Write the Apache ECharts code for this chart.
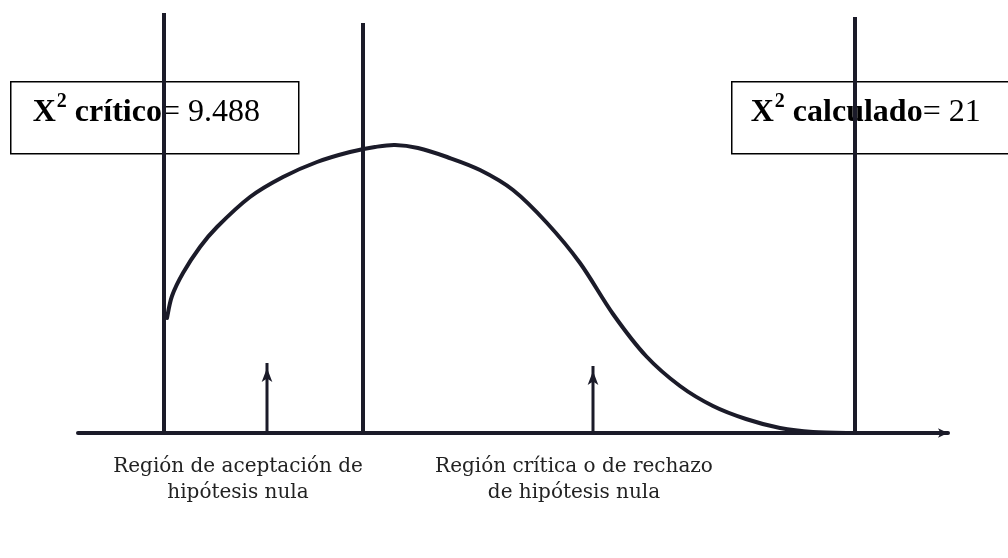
<!DOCTYPE html>
<html>
<head>
<meta charset="utf-8">
<script src="https://cdn.jsdelivr.net/npm/echarts@6/dist/echarts.min.js"></script>
<style>
  html, body { margin: 0; padding: 0; background: #fff; }
  #chart { width: 1008px; height: 558px; }
</style>
</head>
<body>
<div id="chart"></div>
<script>
// curve (x: position along the axis, y: height above the axis)
const curveX = [89, 94, 105, 122, 139, 172, 205, 239, 272, 297, 317, 340, 369, 402,
  435, 469, 502, 535, 568, 602, 635, 668, 702, 735, 777];
const curveY = [115, 137, 160, 186, 206, 236, 256, 271, 281, 286, 288, 285, 276, 263,
  243, 210, 170, 119, 77, 47, 27, 14, 5, 1, 0];

// the three vertical lines (start, critical value, calculated value)
const lineX = [86, 285, 777];
const lineTop = [420, 410, 416];

// the two small arrows pointing at each region
const arrowX = [189, 515];
const arrowTop = [70, 67];

const regionLabels = [
  "Región de aceptación de\nhipótesis nula",
  "Región crítica o de rechazo\nde hipótesis nula",
];

const ink = "#1b1b29";

const chart = echarts.init(document.getElementById("chart"));

// draws the curve as one Catmull-Rom spline through the data points
function renderCurve(params, api) {
  if (params.dataIndex !== 0) return;
  const pts = curveX.map((x, i) => api.coord([x, curveY[i]]));
  let d = `M${pts[0][0]},${pts[0][1]}`;
  for (let i = 0; i < pts.length - 1; i++) {
    const p0 = pts[Math.max(i - 1, 0)];
    const p1 = pts[i];
    const p2 = pts[i + 1];
    const p3 = pts[Math.min(i + 2, pts.length - 1)];
    const c1 = [p1[0] + (p2[0] - p0[0]) / 6, p1[1] + (p2[1] - p0[1]) / 6];
    const c2 = [p2[0] - (p3[0] - p1[0]) / 6, p2[1] - (p3[1] - p1[1]) / 6];
    d += `C${c1[0]},${c1[1]} ${c2[0]},${c2[1]} ${p2[0]},${p2[1]}`;
  }
  return {
    type: "path",
    shape: { pathData: d },
    style: { fill: null, stroke: ink, lineWidth: 4, lineCap: "round" },
  };
}

const series = [
  {
    type: "custom",
    data: curveX.map((x, i) => [x, curveY[i]]),
    renderItem: renderCurve,
    z: 3,
  },
];

lineX.forEach((x, i) => {
  series.push({
    type: "line",
    data: [[x, 0], [x, lineTop[i]]],
    showSymbol: false,
    lineStyle: { color: ink, width: 4 },
  });
});

arrowX.forEach((x, i) => {
  series.push({
    type: "line",
    data: [
      { value: [x, 0], symbol: "none" },
      { value: [x, arrowTop[i]], symbol: "arrow", symbolSize: [8, 14], symbolOffset: [0, 5] },
    ],
    showSymbol: true,
    itemStyle: { color: ink },
    lineStyle: { color: ink, width: 3 },
  });
});

function box(left, textX, text) {
  return {
    type: "group",
    left: left,
    top: 81,
    children: [
      {
        type: "rect",
        shape: { x: 0, y: 0, width: 288, height: 72 },
        style: { fill: "#fff", stroke: "#000", lineWidth: 1.5 },
      },
      {
        type: "text",
        x: textX,
        y: 31,
        style: {
          text: text,
          verticalAlign: "middle",
          fill: "#000",
          rich: {
            b: { fontFamily: "Liberation Serif", fontWeight: "bold", fontSize: 32, fill: "#000" },
            s: { fontFamily: "Liberation Serif", fontWeight: "bold", fontSize: 20, fill: "#000", padding: [0, 0, 22, 1] },
            n: { fontFamily: "Liberation Serif", fontSize: 32, fill: "#000" },
          },
        },
      },
    ],
  };
}

function regionText(x, text) {
  return {
    type: "text",
    x: x,
    y: 480,
    style: {
      text: text,
      align: "center",
      verticalAlign: "middle",
      lineHeight: 26,
      font: "20px 'DejaVu Serif'",
      fill: "#222",
    },
  };
}

chart.setOption({
  animation: false,
  backgroundColor: "#fff",
  grid: { left: 78, right: 60, top: 13, bottom: 125 },
  xAxis: {
    type: "value",
    min: 0,
    max: 870,
    axisLine: {
      lineStyle: { color: ink, width: 4 },
      symbol: ["none", "arrow"],
      symbolSize: [7, 10],
    },
    axisTick: { show: false },
    axisLabel: { show: false },
    splitLine: { show: false },
  },
  yAxis: {
    type: "value",
    min: 0,
    max: 420,
    show: false,
  },
  series: series,
  graphic: [
    box(10, 22, "{b|X}{s|2}{b| crítico}{n|= 9.488}"),
    box(731, 19, "{b|X}{s|2}{b| calculado}{n|= 21}"),
    regionText(238, regionLabels[0]),
    regionText(574, regionLabels[1]),
  ],
});
</script>
</body>
</html>
